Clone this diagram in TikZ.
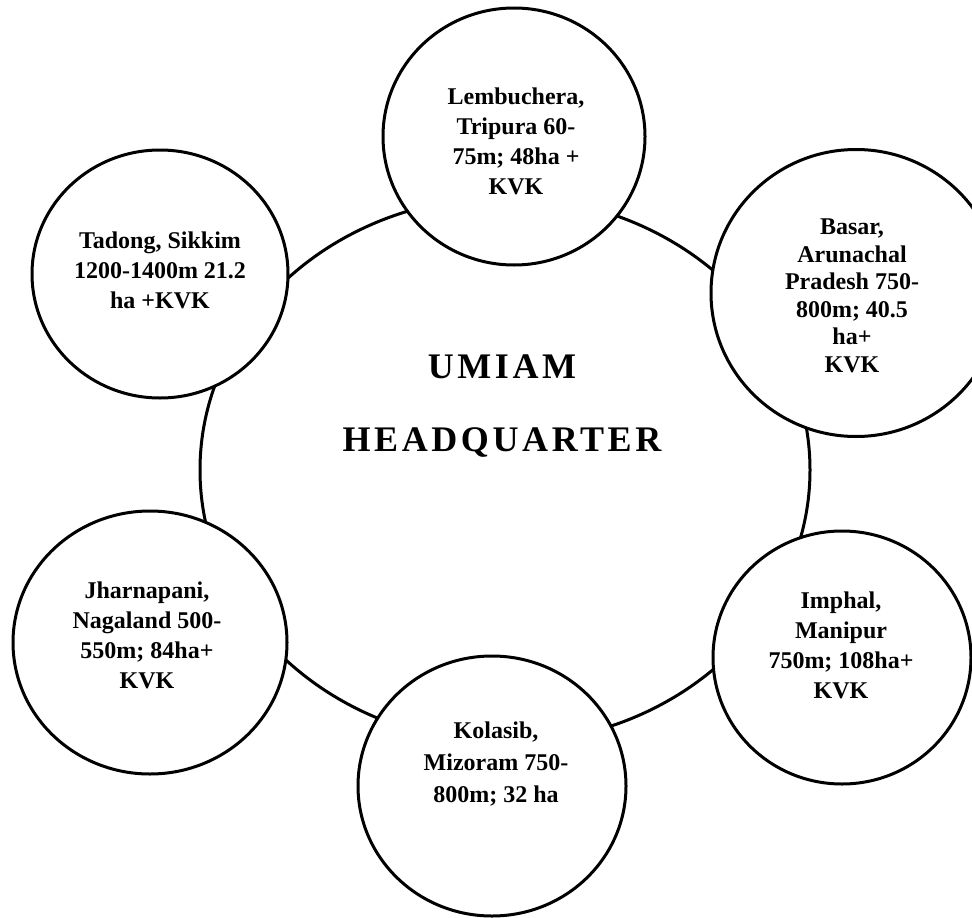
\documentclass[tikz,border=0pt]{standalone}
\usepackage{fontspec}
\setmainfont{Liberation Serif}
\newfontfamily\hqfont[LetterSpace=10]{Liberation Serif}
\usetikzlibrary{shapes.geometric}
\begin{document}
\begin{tikzpicture}[x=1pt,y=-1pt,
  ring/.style={draw,ellipse,line width=3pt,inner sep=0pt},
  site/.style={ring,fill=white},
  lbl/.style={align=center,inner sep=0pt,font=\fontsize{24}{30}\selectfont\bfseries},
  hqtext/.style={anchor=base,inner sep=0pt,font=\hqfont\fontsize{36}{40}\selectfont\bfseries}]
\useasboundingbox (0,0) rectangle (972,918);
\clip (0,0) rectangle (972,918);
% headquarters ring
\node[ring,minimum width=610pt,minimum height=546pt] (hq) at (505,470) {};
\node[hqtext] (hq1) at (502,378) {UMIAM};
\node[hqtext] (hq2) at (502,451) {HEADQUARTER};
% regional centres, drawn over the ring
\node[site,minimum width=262pt,minimum height=257pt] (lem) at (514,136.5) {};
\node[site,minimum width=290pt,minimum height=287pt] (bas) at (856,293) {};
\node[site,minimum width=256pt,minimum height=248pt] (tad) at (160,274) {};
\node[site,minimum width=274pt,minimum height=263pt] (jha) at (150,642.5) {};
\node[site,minimum width=268pt,minimum height=260pt] (kol) at (492,786) {};
\node[site,minimum width=258pt,minimum height=253pt] (imp) at (842,657.5) {};
% labels
\node[lbl] (lemt) at (516,141) {Lembuchera,\\Tripura 60-\\75m; 48ha +\\KVK};
\node[lbl,font=\fontsize{24}{27.5}\selectfont\bfseries] (bast) at (852,296) {Basar,\\Arunachal\\Pradesh 750-\\800m; 40.5\\ha+\\KVK};
\node[lbl] (tadt) at (160,270) {Tadong, Sikkim\\1200-1400m 21.2\\ha +KVK};
\node[lbl] (jhat) at (147,635) {Jharnapani,\\Nagaland 500-\\550m; 84ha+\\KVK};
\node[lbl,font=\fontsize{24}{32}\selectfont\bfseries] (kolt) at (496,764) {Kolasib,\\Mizoram 750-\\800m; 32 ha};
\node[lbl] (impt) at (841,645) {Imphal,\\Manipur\\750m; 108ha+\\KVK};
\end{tikzpicture}
\end{document}
